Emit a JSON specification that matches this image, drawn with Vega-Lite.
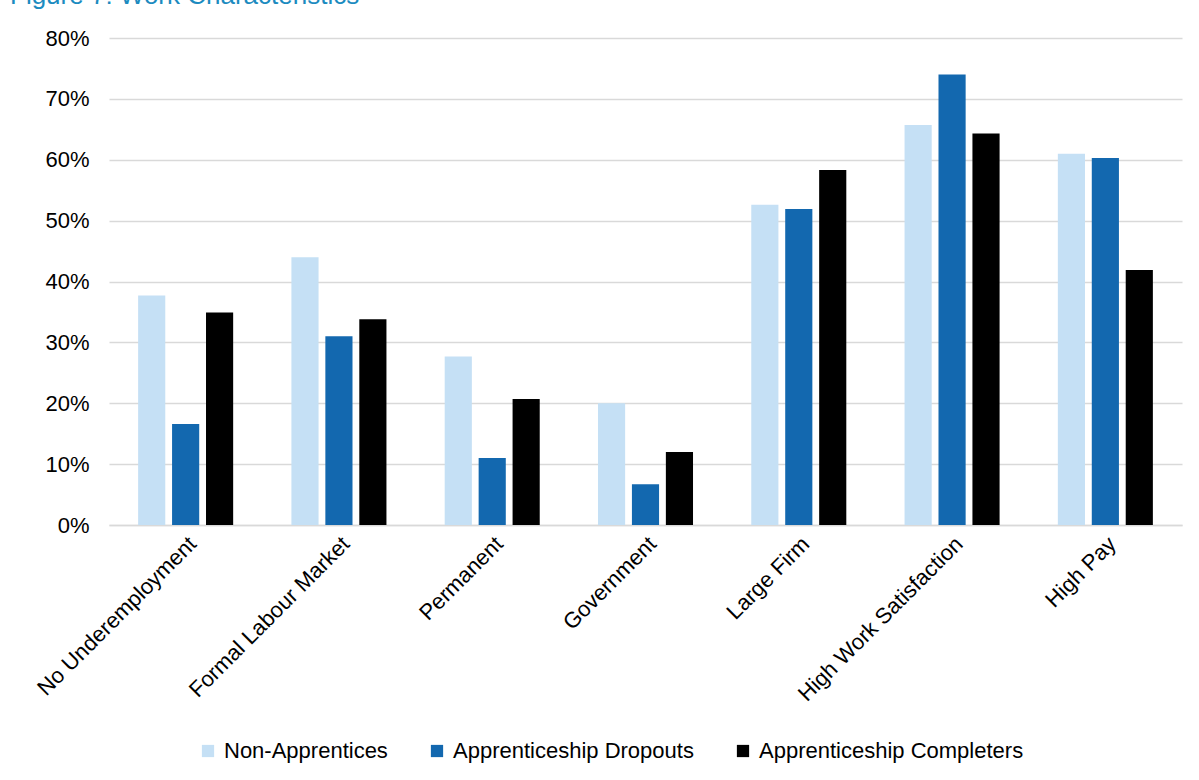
{
  "$schema": "https://vega.github.io/schema/vega-lite/v6.json",
  "autosize": {"type": "none"},
  "width": 1073,
  "height": 487,
  "padding": {"left": 109, "top": 38, "right": 17, "bottom": 255},
  "background": "#ffffff",
  "title": {
    "text": "Figure 7: Work Characteristics",
    "anchor": "start",
    "frame": "group",
    "orient": "top",
    "baseline": "alphabetic",
    "offset": 22,
    "dx": -99,
    "dy": 25,
    "font": "Liberation Sans",
    "fontSize": 26,
    "fontWeight": "normal",
    "color": "#1C8BC0"
  },
  "data": {
    "values": [
      {"category": "No Underemployment", "group": "Non-Apprentices", "share": 0.377},
      {"category": "No Underemployment", "group": "Apprenticeship Dropouts", "share": 0.166},
      {"category": "No Underemployment", "group": "Apprenticeship Completers", "share": 0.349},
      {"category": "Formal Labour Market", "group": "Non-Apprentices", "share": 0.440},
      {"category": "Formal Labour Market", "group": "Apprenticeship Dropouts", "share": 0.310},
      {"category": "Formal Labour Market", "group": "Apprenticeship Completers", "share": 0.338},
      {"category": "Permanent", "group": "Non-Apprentices", "share": 0.277},
      {"category": "Permanent", "group": "Apprenticeship Dropouts", "share": 0.110},
      {"category": "Permanent", "group": "Apprenticeship Completers", "share": 0.207},
      {"category": "Government", "group": "Non-Apprentices", "share": 0.200},
      {"category": "Government", "group": "Apprenticeship Dropouts", "share": 0.067},
      {"category": "Government", "group": "Apprenticeship Completers", "share": 0.120},
      {"category": "Large Firm", "group": "Non-Apprentices", "share": 0.526},
      {"category": "Large Firm", "group": "Apprenticeship Dropouts", "share": 0.519},
      {"category": "Large Firm", "group": "Apprenticeship Completers", "share": 0.583},
      {"category": "High Work Satisfaction", "group": "Non-Apprentices", "share": 0.657},
      {"category": "High Work Satisfaction", "group": "Apprenticeship Dropouts", "share": 0.740},
      {"category": "High Work Satisfaction", "group": "Apprenticeship Completers", "share": 0.643},
      {"category": "High Pay", "group": "Non-Apprentices", "share": 0.610},
      {"category": "High Pay", "group": "Apprenticeship Dropouts", "share": 0.603},
      {"category": "High Pay", "group": "Apprenticeship Completers", "share": 0.419}
    ]
  },
  "mark": {"type": "bar"},
  "encoding": {
    "x": {
      "field": "category",
      "type": "nominal",
      "sort": null,
      "title": null,
      "scale": {"paddingInner": 0.38, "paddingOuter": 0.19},
      "axis": {
        "labelAngle": -45,
        "labelFont": "Liberation Sans",
        "labelFontSize": 22,
        "labelColor": "#000000",
        "labelPadding": 8,
        "ticks": false,
        "domainColor": "#D9D9D9",
        "domainWidth": 1.5,
        "labelLimit": 400
      }
    },
    "xOffset": {
      "field": "group",
      "type": "nominal",
      "sort": ["Non-Apprentices", "Apprenticeship Dropouts", "Apprenticeship Completers"],
      "scale": {"paddingInner": 0.2, "paddingOuter": 0}
    },
    "y": {
      "field": "share",
      "type": "quantitative",
      "title": null,
      "scale": {"domain": [0, 0.8], "nice": false},
      "axis": {
        "format": ".0%",
        "values": [0, 0.1, 0.2, 0.3, 0.4, 0.5, 0.6, 0.7, 0.8],
        "labelFont": "Liberation Sans",
        "labelFontSize": 22,
        "labelColor": "#000000",
        "labelPadding": 20,
        "ticks": false,
        "domain": false,
        "gridColor": "#D9D9D9",
        "gridWidth": 1.5
      }
    },
    "color": {
      "field": "group",
      "type": "nominal",
      "sort": ["Non-Apprentices", "Apprenticeship Dropouts", "Apprenticeship Completers"],
      "scale": {
        "domain": ["Non-Apprentices", "Apprenticeship Dropouts", "Apprenticeship Completers"],
        "range": ["#C5E0F5", "#1368AF", "#000000"]
      },
      "legend": {
        "title": null,
        "orient": "none",
        "direction": "horizontal",
        "legendX": 88,
        "legendY": 702,
        "symbolType": "square",
        "symbolSize": 150,
        "symbolStrokeWidth": 0,
        "labelFont": "Liberation Sans",
        "labelFontSize": 22,
        "labelColor": "#000000",
        "labelOffset": 5,
        "columnPadding": 38,
        "labelLimit": 400
      }
    }
  },
  "config": {
    "view": {"stroke": null}
  }
}
